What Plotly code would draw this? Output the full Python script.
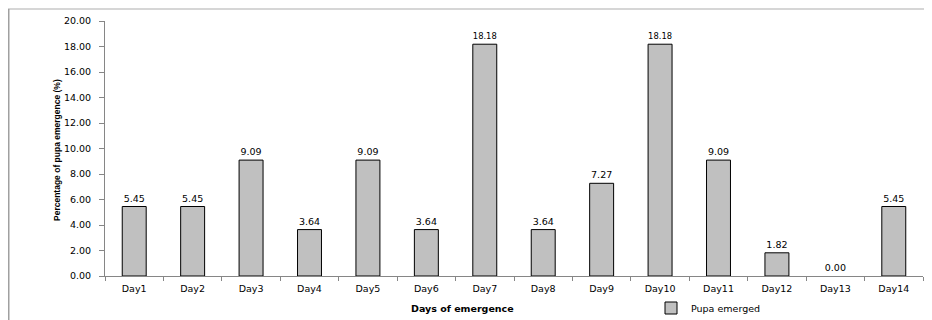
import plotly.graph_objects as go

days = ["Day1", "Day2", "Day3", "Day4", "Day5", "Day6", "Day7",
        "Day8", "Day9", "Day10", "Day11", "Day12", "Day13", "Day14"]
pupa_emerged = [5.45, 5.45, 9.09, 3.64, 9.09, 3.64, 18.18,
                3.64, 7.27, 18.18, 9.09, 1.82, 0.00, 5.45]
y_ticks = [0, 2, 4, 6, 8, 10, 12, 14, 16, 18, 20]

# page body has an 8px default margin, so the figure is drawn 8px in from the corner
OFF = 8
W, H = 932 - OFF, 320 - OFF
L, R, T, B = 105 - OFF, 9, 21 - OFF, 44
PW, PH = W - L - R, H - T - B


def px_x(p):  # screen pixel -> paper x
    return (p - OFF - L) / PW


def px_y(p):  # screen pixel -> paper y
    return ((H - B) - (p - OFF)) / PH


fig = go.Figure()
fig.add_trace(go.Bar(
    x=days, y=pupa_emerged, name="Pupa emerged",
    marker=dict(color="#C0C0C0",
                line=dict(color="#000000",
                          width=[1 if v > 0 else 0 for v in pupa_emerged])),
    width=0.41,
    text=[f"{v:.2f}" for v in pupa_emerged], textposition="outside",
    textfont=dict(family="DejaVu Sans", size=9.5, color="#000000"),
    cliponaxis=False,
))

fig.update_layout(
    width=W, height=H,
    margin=dict(l=L, r=R, t=T, b=B, autoexpand=False),
    paper_bgcolor="white", plot_bgcolor="white",
    font=dict(family="DejaVu Sans", size=9, color="#000000"),
    showlegend=True,
    legend=dict(orientation="h", x=px_x(651), y=px_y(308),
                xanchor="left", yanchor="middle",
                font=dict(family="DejaVu Sans", size=9.5, color="#000000"),
                bgcolor="rgba(0,0,0,0)", itemwidth=30),
    bargap=0.59,
    xaxis=dict(showline=True, linecolor="#868686", linewidth=1,
               ticks="outside", ticklen=4, tickcolor="#868686",
               tickson="boundaries", showgrid=False, ticklabelstandoff=4,
               tickfont=dict(family="DejaVu Sans", size=9.5)),
    yaxis=dict(range=[0, 20], tickvals=y_ticks,
               ticktext=[f"{v:.2f}" for v in y_ticks],
               showline=True, linecolor="#868686", linewidth=1,
               ticks="outside", ticklen=5, tickcolor="#868686",
               showgrid=False, zeroline=False, ticklabelstandoff=6,
               tickfont=dict(family="DejaVu Sans", size=9.5)),
    annotations=[
        dict(text="<b>Days of emergence</b>", xref="paper", yref="paper",
             x=px_x(462), y=px_y(308),
             xanchor="center", yanchor="middle", showarrow=False,
             font=dict(family="DejaVu Sans", size=9.5)),
        dict(text="<b>Percentage of pupa emergence (%)</b>", xref="paper", yref="paper",
             x=px_x(57), y=px_y(150),
             xanchor="center", yanchor="middle", showarrow=False, textangle=-90,
             font=dict(family="Liberation Sans Narrow, Liberation Sans, Arial", size=8.5)),
    ],
    shapes=[
        dict(type="line", xref="paper", yref="paper",
             x0=px_x(8), x1=px_x(940), y0=px_y(9), y1=px_y(9),
             line=dict(color="#c8c8c8", width=1.5)),
        dict(type="line", xref="paper", yref="paper",
             x0=px_x(8.75), x1=px_x(8.75), y0=px_y(9), y1=px_y(330),
             line=dict(color="#a0a0a0", width=1.5)),
    ],
)

fig.write_html("out.html")
